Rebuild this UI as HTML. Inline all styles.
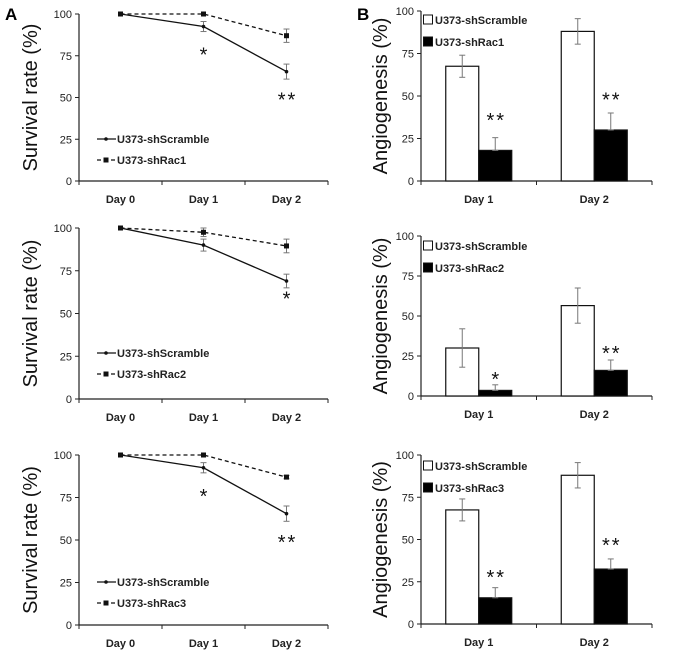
<!DOCTYPE html>
<html><head><meta charset="utf-8"><style>
html,body{margin:0;padding:0;background:#fff}
svg{display:block;font-family:"Liberation Sans",sans-serif}
.tk{font-size:11px;fill:#222}
.cat{font-size:11px;font-weight:bold;fill:#222}
.lg{font-size:11px;font-weight:bold;fill:#222}
.yt{font-size:20px;fill:#111}
.st{font-size:20px;fill:#111;letter-spacing:2px}
</style></head><body>
<svg id="fig" width="700" height="655" viewBox="0 0 700 655">
<text x="5" y="20" font-size="17" font-weight="bold">A</text>
<text x="357" y="20" font-size="17" font-weight="bold">B</text>
</svg>
<script>
// ---- data ----
const lineDays = ["Day 0","Day 1","Day 2"];
const barDays = ["Day 1","Day 2"];
const yTicks = [0,25,50,75,100];
const lineNames = ["U373-shRac1","U373-shRac2","U373-shRac3"];
const scrambleA1 = [100,92.5,65.5], scrambleA1Err = [0,3,4.5];
const racA1 = [100,100,87], racA1Err = [0,0,4];
const scrambleA2 = [100,90,69], scrambleA2Err = [0,3.5,4];
const racA2 = [100,97.5,89.5], racA2Err = [0,2.5,4];
const scrambleA3 = [100,92.5,65.5], scrambleA3Err = [0,3,4.5];
const racA3 = [100,100,87], racA3Err = [0,0,1];
const starsA1 = [["*",1,77],["**",2,50]];
const starsA2 = [["*",2,60]];
const starsA3 = [["*",1,77],["**",2,50]];
const scrambleB1 = [67.5,88], scrambleB1Err = [6.5,7.5];
const racB1 = [18,30], racB1Err = [7.5,10];
const scrambleB2 = [30,56.5], scrambleB2Err = [12,11];
const racB2 = [3.5,16], racB2Err = [3.5,6.5];
const scrambleB3 = [67.5,88], scrambleB3Err = [6.5,7.5];
const racB3 = [15.5,32.5], racB3Err = [6,6];
const starsB1 = [["**",0,37],["**",1,49]];
const starsB2 = [["*",0,12],["**",1,28]];
const starsB3 = [["**",0,29],["**",1,48]];

const NS="http://www.w3.org/2000/svg";
const svg=document.getElementById('fig');
function mk(tag,attrs,parent,txt){const e=document.createElementNS(NS,tag);for(const k in attrs)e.setAttribute(k,attrs[k]);if(txt!==undefined)e.textContent=txt;(parent||svg).appendChild(e);return e;}

function axes(g,x0,x1,yTop,yBot,nCat,cats,title,titleX){
  const y=v=>yBot-(yBot-yTop)*v/100;
  const yl=mk('line',{x1:x0,y1:yTop,x2:x0,y2:yBot,stroke:'#222','stroke-width':1.2},g);
  
  
  const xl=mk('line',{x1:x0,y1:yBot,x2:x1,y2:yBot,stroke:'#222','stroke-width':1.2},g);
  
  
  yTicks.forEach(t=>{
    mk('line',{x1:x0-4,y1:y(t),x2:x0,y2:y(t),stroke:'#222'},g);
    const tl=mk('text',{x:x0-7,y:y(t)+4,'text-anchor':'end',class:'tk'},g,String(t));
    
    
  });
  const bw=(x1-x0)/nCat;
  for(let i=0;i<=nCat;i++) mk('line',{x1:x0+bw*i,y1:yBot,x2:x0+bw*i,y2:yBot+4,stroke:'#222'},g);
  cats.forEach((c,i)=>{
    const cl=mk('text',{x:x0+bw*(i+0.5),y:yBot+22,'text-anchor':'middle',class:'cat'},g,c);
    
    
  });
  const cy=(yTop+yBot)/2;
  const tt=mk('text',{x:titleX,y:cy,'text-anchor':'middle',class:'yt',transform:`rotate(-90 ${titleX} ${cy})`},g,title);
  
  
  return {y,bw};
}
function errbar(g,x,y1,y2){
  mk('line',{x1:x,y1:y1,x2:x,y2:y2,stroke:'#777','stroke-width':1},g);
  mk('line',{x1:x-3,y1:y1,x2:x+3,y2:y1,stroke:'#777'},g);
  mk('line',{x1:x-3,y1:y2,x2:x+3,y2:y2,stroke:'#777'},g);
}
function linePanel(idx,yTop,yBot,sc,scE,rc,rcE,stars,legY){
  const g=mk('g',{});
  
  
  const x0=79,x1=328;
  const a=axes(g,x0,x1,yTop,yBot,3,lineDays,'Survival rate (%)',37);
  const cx=i=>x0+a.bw*(i+0.5);
  [[rc,rcE,true],[sc,scE,false]].forEach(([vals,errs,dash])=>{
    vals.forEach((v,i)=>{if(errs[i]>0)errbar(g,cx(i),a.y(v+errs[i]),a.y(v-errs[i]));});
    const p=mk('polyline',{points:vals.map((v,i)=>cx(i)+','+a.y(v)).join(' '),fill:'none',stroke:'#111','stroke-width':1.3,'stroke-dasharray':dash?'4,3':'none'},g);
    
    
    vals.forEach((v,i)=>{
      const m=dash?mk('rect',{x:cx(i)-2.5,y:a.y(v)-2.5,width:5,height:5,fill:'#111'},g):mk('circle',{cx:cx(i),cy:a.y(v),r:1.8,fill:'#111'},g);
      
      
    });
  });
  stars.forEach(([s,i,v])=>{
    const t=mk('text',{x:cx(i)+1,y:a.y(v)+9,'text-anchor':'middle',class:'st'},g,s);
    
    
  });
  const l1=mk('g',{},g);
  
  
  mk('line',{x1:97,y1:legY,x2:116,y2:legY,stroke:'#111','stroke-width':1.3},l1);
  mk('circle',{cx:106,cy:legY,r:1.8,fill:'#111'},l1);
  mk('text',{x:117,y:legY+4,class:'lg'},l1,'U373-shScramble');
  const l2=mk('g',{},g);
  
  
  mk('line',{x1:97,y1:legY+21,x2:116,y2:legY+21,stroke:'#111','stroke-width':1.3,'stroke-dasharray':'4,3'},l2);
  mk('rect',{x:103.5,y:legY+18.5,width:5,height:5,fill:'#111'},l2);
  mk('text',{x:117,y:legY+25,class:'lg'},l2,lineNames[idx]);
}
function barPanel(idx,yTop,yBot,sc,scE,rc,rcE,stars,legY){
  const g=mk('g',{});
  
  
  const x0=421,x1=652;
  const a=axes(g,x0,x1,yTop,yBot,2,barDays,'Angiogenesis (%)',387);
  const cx=i=>x0+a.bw*(i+0.5);
  const w=33;
  sc.forEach((v,i)=>{
    const r=mk('rect',{x:cx(i)-w,y:a.y(v),width:w,height:yBot-a.y(v),fill:'#fff',stroke:'#111','stroke-width':1.2},g);
    
    
    errbar(g,cx(i)-w/2,a.y(v+scE[i]),a.y(v-scE[i]));
  });
  rc.forEach((v,i)=>{
    const r=mk('rect',{x:cx(i),y:a.y(v),width:w,height:yBot-a.y(v),fill:'#000',stroke:'#111','stroke-width':1.2},g);
    
    
    errbar(g,cx(i)+w/2,a.y(v+rcE[i]),a.y(v));
  });
  stars.forEach(([s,i,v])=>{
    const t=mk('text',{x:cx(i)+w/2+1,y:a.y(v)+9,'text-anchor':'middle',class:'st'},g,s);
    
    
  });
  const l1=mk('g',{},g);
  
  
  mk('rect',{x:423.5,y:legY-5,width:9,height:9,fill:'#fff',stroke:'#111'},l1);
  mk('text',{x:435,y:legY+4,class:'lg'},l1,'U373-shScramble');
  const l2=mk('g',{},g);
  
  
  mk('rect',{x:423.5,y:legY+17,width:9,height:9,fill:'#000',stroke:'#111'},l2);
  mk('text',{x:435,y:legY+26,class:'lg'},l2,lineNames[idx]);
}
linePanel(0,14,181,scrambleA1,scrambleA1Err,racA1,racA1Err,starsA1,139);
linePanel(1,228,399,scrambleA2,scrambleA2Err,racA2,racA2Err,starsA2,353);
linePanel(2,455,625,scrambleA3,scrambleA3Err,racA3,racA3Err,starsA3,582);
barPanel(0,11,181,scrambleB1,scrambleB1Err,racB1,racB1Err,starsB1,20);
barPanel(1,236,396,scrambleB2,scrambleB2Err,racB2,racB2Err,starsB2,246);
barPanel(2,455,624,scrambleB3,scrambleB3Err,racB3,racB3Err,starsB3,466);
</script>
</body></html>
